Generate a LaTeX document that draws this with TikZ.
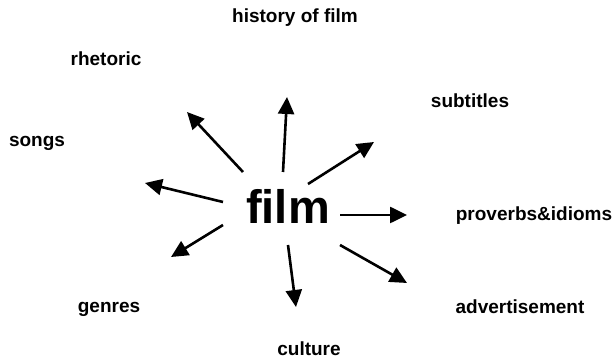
\documentclass[tikz,border=0pt]{standalone}
\usepackage{fontspec}
\setmainfont{Liberation Sans}
\usetikzlibrary{arrows.meta}
\begin{document}
\begin{tikzpicture}[x=1pt,y=-1pt,
  lbl/.style={font=\bfseries\fontsize{19}{22}\selectfont, inner sep=0pt},
  arr/.style={line width=2.6pt, -{Triangle[length=17pt,width=16pt]}}]
\useasboundingbox (0,0) rectangle (616,363);
\node[inner sep=0pt, font=\bfseries\fontsize{47}{52}\selectfont] (film) at (288,206) {film};
\node[lbl] (history) at (295,18) {history of film};
\node[lbl] (rhetoric) at (106,59) {rhetoric};
\node[lbl] (subtitles) at (470,101) {subtitles};
\node[lbl] (songs) at (37,143) {songs};
\node[lbl] (proverbs) at (534,216) {proverbs\&idioms};
\node[lbl] (genres) at (109,309) {genres};
\node[lbl] (advert) at (520,307) {advertisement};
\node[lbl] (culture) at (309,349) {culture};
% arrow end points
\coordinate (s1) at (243,172); \coordinate (t1) at (187,112);
\coordinate (s2) at (283,172); \coordinate (t2) at (287,97);
\coordinate (s3) at (308,184); \coordinate (t3) at (374,142);
\coordinate (s4) at (223,202); \coordinate (t4) at (145,183);
\coordinate (s5) at (340,215); \coordinate (t5) at (407,215);
\coordinate (s6) at (223,225); \coordinate (t6) at (171,257);
\coordinate (s7) at (288,245); \coordinate (t7) at (296,307);
\coordinate (s8) at (340,245); \coordinate (t8) at (407,283);
\foreach \i in {1,...,8} {\draw[arr] (s\i) -- (t\i);}
\end{tikzpicture}
\end{document}
